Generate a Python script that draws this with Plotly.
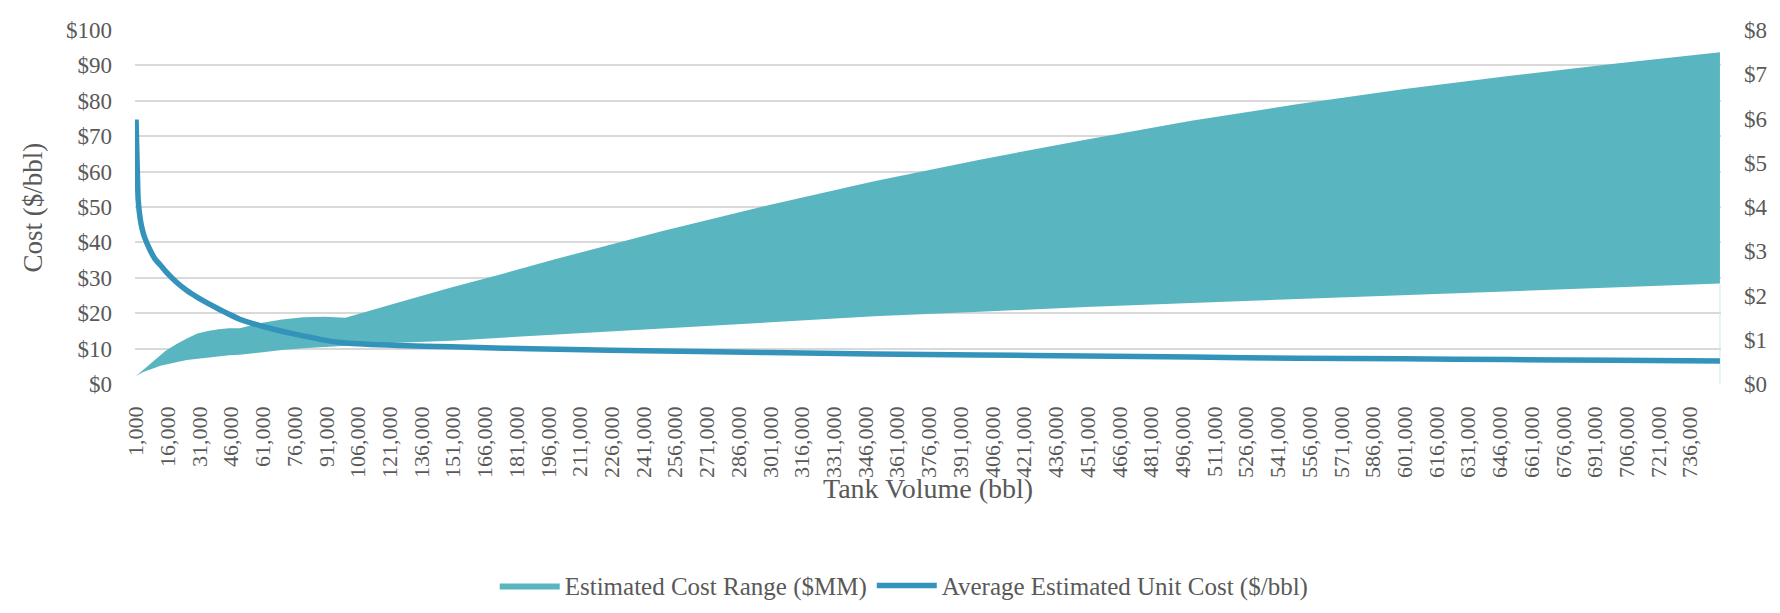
import plotly.graph_objects as go

# Tank volume (bbl) at which values were read
volume = [1000, 2000, 3000, 4000, 5000, 7500, 10000, 12500, 15000, 20000,
          25000, 30000, 35000, 40000, 45000, 50000, 60000, 70000, 80000, 90000,
          100000, 125000, 150000, 175000, 200000, 250000, 300000, 350000, 400000,
          450000, 500000, 550000, 600000, 650000, 700000, 750000]

# Estimated cost range ($MM) - lower and upper bounds (right axis)
cost_low = [0.18, 0.21, 0.23, 0.26, 0.28, 0.33, 0.37, 0.41, 0.44, 0.49,
            0.54, 0.57, 0.60, 0.62, 0.65, 0.66, 0.72, 0.77, 0.81, 0.84,
            0.86, 0.93, 0.98, 1.05, 1.12, 1.26, 1.40, 1.53, 1.63,
            1.74, 1.83, 1.92, 2.01, 2.10, 2.19, 2.27]
cost_high = [0.18, 0.22, 0.26, 0.30, 0.35, 0.46, 0.56, 0.66, 0.75, 0.90,
             1.03, 1.14, 1.20, 1.24, 1.26, 1.26, 1.38, 1.46, 1.51, 1.52,
             1.50, 1.84, 2.18, 2.50, 2.83, 3.46, 4.04, 4.58, 5.07,
             5.52, 5.95, 6.32, 6.66, 6.96, 7.24, 7.50]

# Average estimated unit cost ($/bbl) (left axis)
unit_cost = [74.7, 52.0, 46.5, 43.5, 41.5, 38.0, 35.3, 33.6, 31.8, 28.8,
             26.4, 24.5, 22.8, 21.2, 19.7, 18.3, 16.4, 14.9, 13.6, 12.4,
             11.6, 10.9, 10.5, 10.1, 9.8, 9.3, 8.9, 8.5, 8.2,
             7.9, 7.6, 7.3, 7.1, 6.9, 6.7, 6.5]

# Category-axis tick labels (every 15,000 bbl)
x_tick_vals = list(range(1000, 750001, 15000))
x_tick_text = [f"{v:,}" for v in x_tick_vals]

left_ticks = [0, 10, 20, 30, 40, 50, 60, 70, 80, 90, 100]
left_tick_text = [f"${v}" for v in left_ticks]
right_ticks = [0, 1, 2, 3, 4, 5, 6, 7, 8]
right_tick_text = [f"${v}" for v in right_ticks]

BAND = "#59B5C0"
LINE = "#3393BA"
TXT = "#595959"
FONT = "'Liberation Serif', 'Times New Roman', 'DejaVu Serif', serif"

fig = go.Figure()

fig.add_trace(go.Scatter(
    x=volume, y=cost_low, yaxis="y", mode="lines",
    line=dict(width=0, color=BAND), showlegend=False, hoverinfo="skip"))
fig.add_trace(go.Scatter(
    x=volume, y=cost_high, yaxis="y", mode="lines",
    line=dict(width=0, color=BAND), fill="tonexty", fillcolor=BAND,
    name="Estimated Cost Range ($MM)"))
# faint right edge of the lower (transparent) series
fig.add_trace(go.Scatter(
    x=[volume[-1], volume[-1]], y=[0, cost_low[-1]], yaxis="y", mode="lines",
    line=dict(width=1, color="#cde9ee"), showlegend=False, hoverinfo="skip"))
fig.add_trace(go.Scatter(
    x=volume, y=unit_cost, yaxis="y2", mode="lines",
    line=dict(width=5.5, color=LINE, shape="spline", smoothing=0.3),
    name="Average Estimated Unit Cost ($/bbl)"))

fig.update_layout(
    width=1780, height=613,
    margin=dict(l=127, r=67, t=22, b=222),
    paper_bgcolor="white", plot_bgcolor="white",
    font=dict(family=FONT, color=TXT, size=22),
    xaxis=dict(
        range=[500, 750500], tickmode="array", tickvals=x_tick_vals,
        ticktext=x_tick_text, tickangle=-90, showgrid=False, zeroline=False,
        ticks="", ticklabelstandoff=17, tickfont=dict(size=22, family=FONT, color=TXT),
        showline=False, automargin=False),
    yaxis=dict(
        side="right", range=[0, 8], tickmode="array", tickvals=right_ticks,
        ticktext=right_tick_text, showgrid=False, zeroline=False, ticks="",
        ticklabelstandoff=22, tickfont=dict(size=23, family=FONT, color=TXT),
        automargin=False),
    yaxis2=dict(
        side="left", overlaying="y", range=[0, 100], tickmode="array",
        tickvals=left_ticks, ticktext=left_tick_text, showgrid=True,
        gridcolor="#D9D9D9", gridwidth=1.5, zeroline=False, ticks="",
        ticklabelstandoff=22, tickfont=dict(size=23, family=FONT, color=TXT),
        automargin=False),
    legend=dict(
        orientation="h", x=0.485, xanchor="center", y=-0.57, yanchor="middle",
        font=dict(size=25, family=FONT, color=TXT), itemwidth=60,
        traceorder="normal"),
    annotations=[
        dict(text="Cost ($/bbl)", xref="paper", yref="paper", x=-0.064, y=0.5,
             textangle=-90, showarrow=False, xanchor="center", yanchor="middle",
             font=dict(size=27, family=FONT, color=TXT)),
        dict(text="Tank Volume (bbl)", xref="paper", yref="paper", x=0.5, y=-0.295,
             showarrow=False, xanchor="center", yanchor="middle",
             font=dict(size=28, family=FONT, color=TXT)),
    ],
)

fig.write_html("out.html")
